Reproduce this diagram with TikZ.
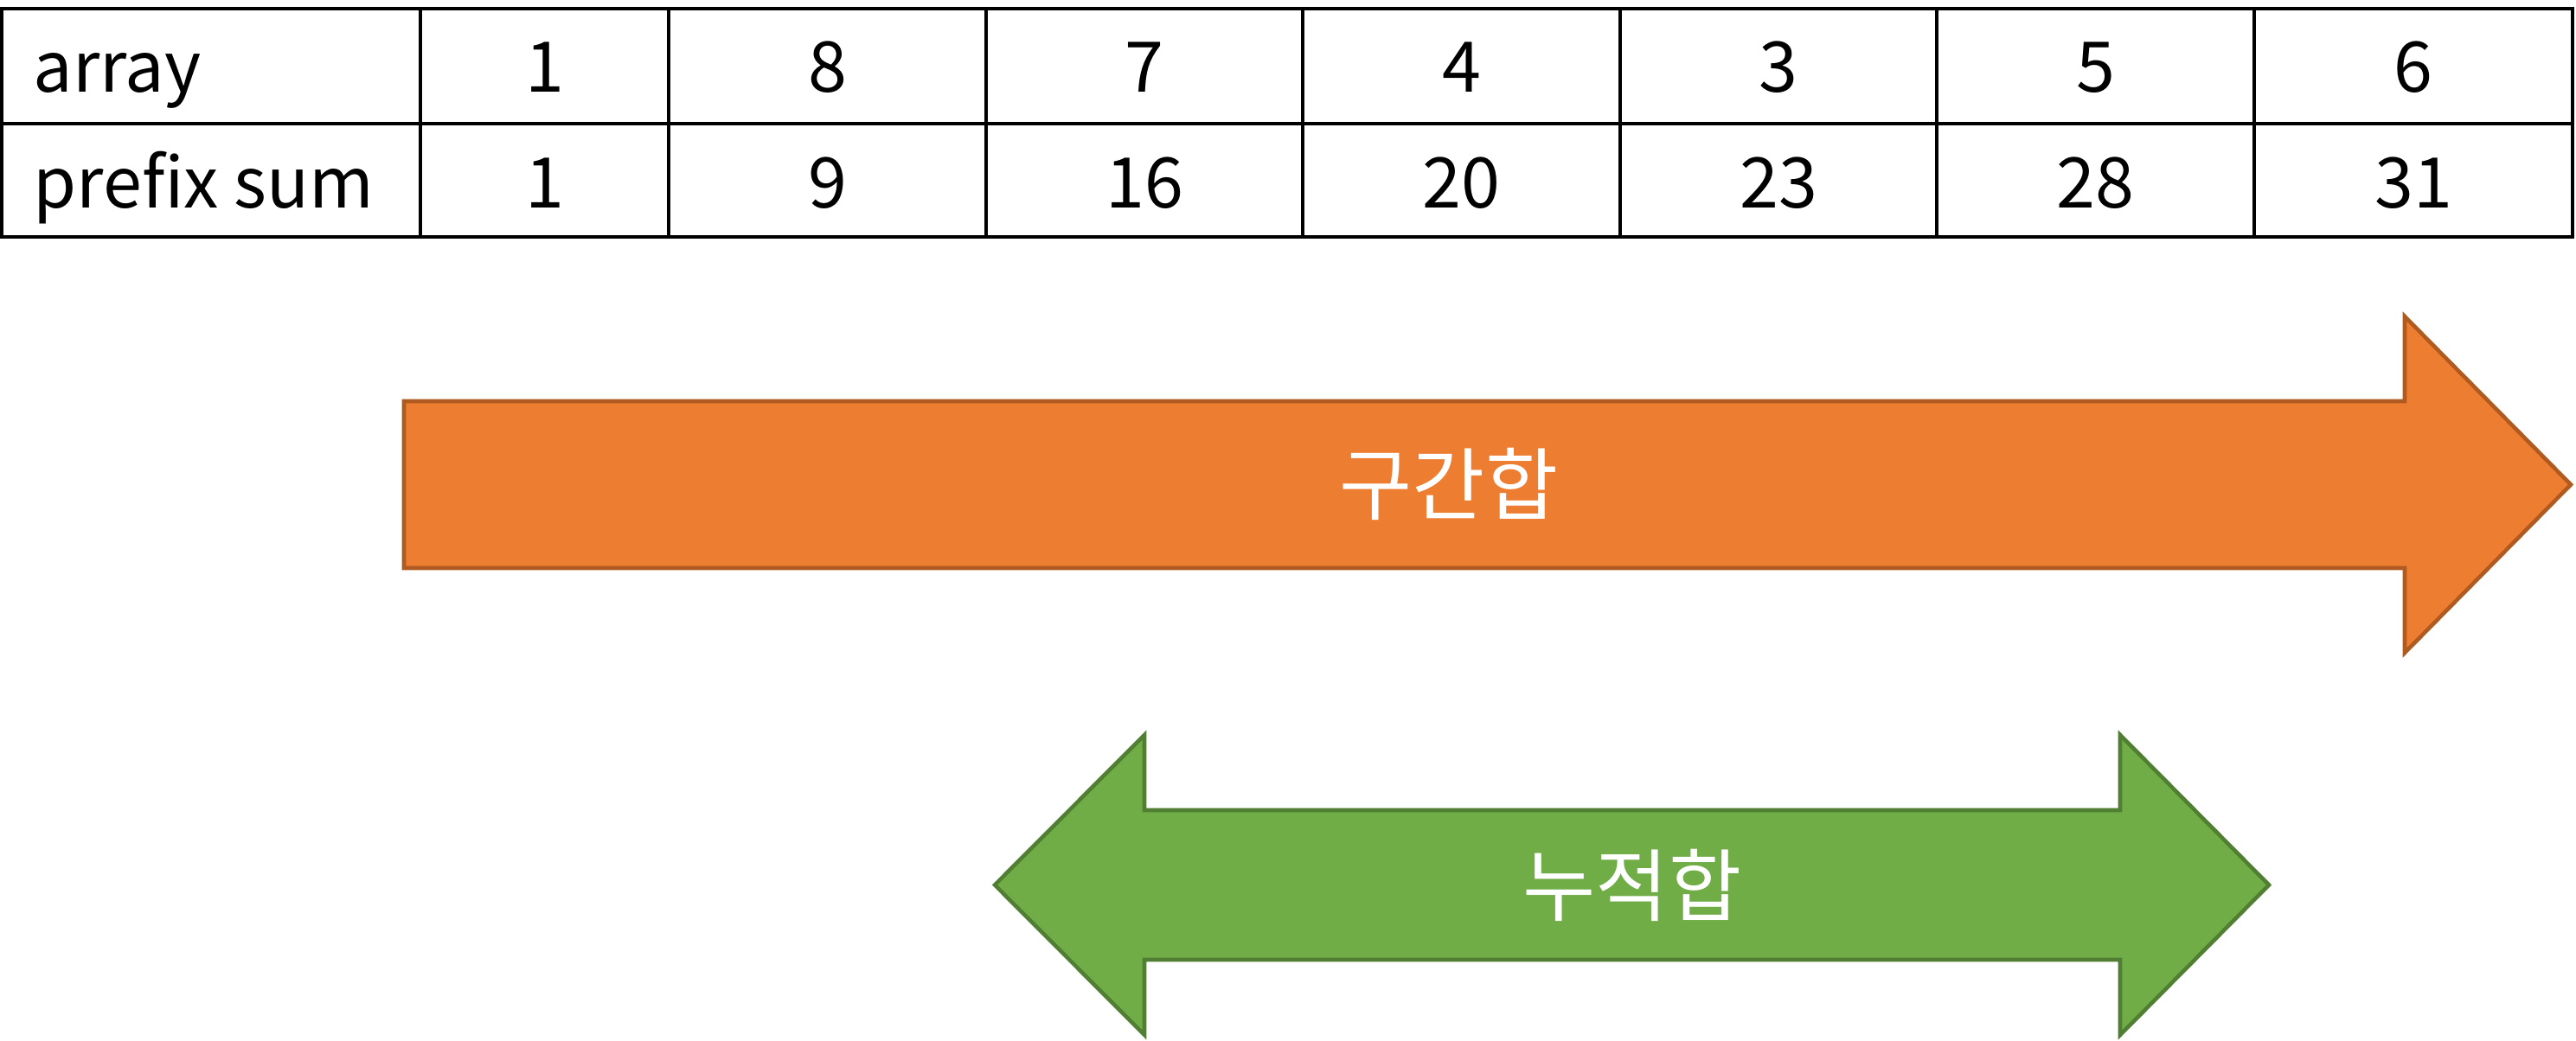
\documentclass[tikz,border=0pt]{standalone}
\usepackage{fontspec}
\setmainfont{Noto Sans CJK KR}
\definecolor{orangefill}{HTML}{ED7D31}
\definecolor{orangeline}{HTML}{AE5A21}
\definecolor{greenfill}{HTML}{70AD47}
\definecolor{greenline}{HTML}{507E32}

\begin{document}
\begin{tikzpicture}[cell/.style={font=\fontsize{23}{28}\selectfont,inner sep=0pt,anchor=base},
    tag/.style={font=\fontsize{26}{31}\selectfont,text=white,inner sep=0pt}]
    \useasboundingbox (0,0) rectangle (29.78,12.03);
    % table grid
    \draw[line width=1.15pt] (0.02,9.29) rectangle (29.74,11.93);
    \draw[line width=1.15pt] (0.02,10.60)--(29.74,10.60);
    \draw[line width=1.15pt] (4.86,9.29)--(4.86,11.93);
    \draw[line width=1.15pt] (7.73,9.29)--(7.73,11.93);
    \draw[line width=1.15pt] (11.40,9.29)--(11.40,11.93);
    \draw[line width=1.15pt] (15.06,9.29)--(15.06,11.93);
    \draw[line width=1.15pt] (18.73,9.29)--(18.73,11.93);
    \draw[line width=1.15pt] (22.39,9.29)--(22.39,11.93);
    \draw[line width=1.15pt] (26.06,9.29)--(26.06,11.93);
    % row heads
    \node[cell,anchor=base west] (arrhead) at (0.38,10.96) {array};
    \node[cell,anchor=base west] (sumhead) at (0.38,9.62) {prefix sum};
    % array values
    \node[cell] (a1) at (6.295,10.96) {1};
    \node[cell] (a2) at (9.565,10.96) {8};
    \node[cell] (a3) at (13.23,10.96) {7};
    \node[cell] (a4) at (16.895,10.96) {4};
    \node[cell] (a5) at (20.56,10.96) {3};
    \node[cell] (a6) at (24.225,10.96) {5};
    \node[cell] (a7) at (27.90,10.96) {6};
    % prefix sums
    \node[cell] (s1) at (6.295,9.62) {1};
    \node[cell] (s2) at (9.565,9.62) {9};
    \node[cell] (s3) at (13.23,9.62) {16};
    \node[cell] (s4) at (16.895,9.62) {20};
    \node[cell] (s5) at (20.56,9.62) {23};
    \node[cell] (s6) at (24.225,9.62) {28};
    \node[cell] (s7) at (27.90,9.62) {31};
    % orange arrow
    \filldraw[fill=orangefill,draw=orangeline,line width=1.3pt] (4.67,5.46)--(4.67,7.39)--(27.80,7.39)--(27.80,8.37)--(29.72,6.425)--(27.80,4.48)--(27.80,5.46)--cycle;
    \node[tag] (range) at (16.75,6.43) {구간합};
    % green arrow
    \filldraw[fill=greenfill,draw=greenline,line width=1.3pt] (11.50,1.795)--(13.23,3.53)--(13.23,2.66)--(24.51,2.66)--(24.51,3.53)--(26.23,1.795)--(24.51,0.06)--(24.51,0.93)--(13.23,0.93)--(13.23,0.06)--cycle;
    \node[tag] (prefix) at (18.87,1.79) {누적합};
\end{tikzpicture}
\end{document}
